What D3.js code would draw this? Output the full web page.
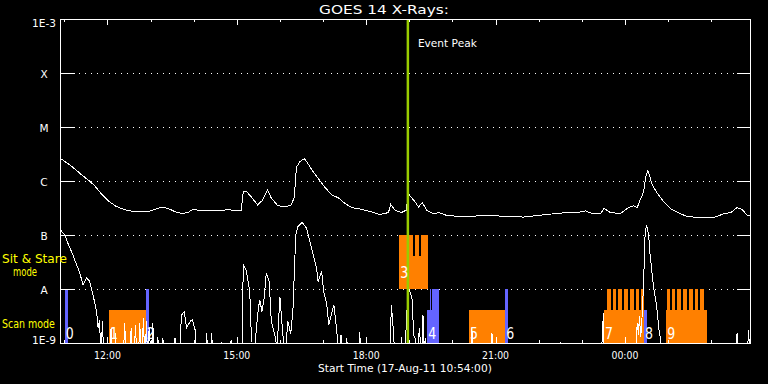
<!DOCTYPE html>
<html>
<head>
<meta charset="utf-8">
<script src="https://cdn.jsdelivr.net/npm/d3@7"></script>
<style>
  body { margin: 0; background: #000; }
  svg { display: block; font-family: "DejaVu Sans", sans-serif; }
</style>
</head>
<body>
<svg id="chart" width="768" height="384"></svg>
<script>

// plot starts 17-Aug-11 10:54:00, all times below are minutes after that
var startTime = new Date(2011, 7, 17, 10, 54, 0);
var spanMinutes = 960;

var levelValues = [1e-9, 1e-8, 1e-7, 1e-6, 1e-5, 1e-4, 1e-3];
var levelLabels = ["1E-9", "A", "B", "C", "M", "X", "1E-3"];

// GOES 1-8 A (long channel)
var longMinutes = [1, 11, 20, 30, 41, 48, 57, 69, 78, 88, 97, 109, 123, 132, 143, 153, 160, 169, 178, 185,
  197, 211, 225, 234, 243, 252, 255, 259, 266, 275, 281, 289, 294, 303, 313, 322, 326, 329, 334, 340,
  345, 352, 362, 368, 378, 387, 396, 406, 419, 433, 445, 457, 460, 466, 475, 482, 483, 486, 494, 499,
  504, 510, 520, 527, 538, 557, 580, 599, 622, 645, 659, 677, 705, 719, 731, 740, 752, 757, 766, 780,
  789, 798, 803, 807, 812, 815, 818, 820, 824, 831, 840, 849, 863, 872, 891, 909, 923, 933, 942, 949,
  956, 960];
var longFlux = [2.6e-6, 2.1e-6, 1.7e-6, 1.3e-6, 1.0e-6, 8.2e-7, 5.9e-7, 4.1e-7, 3.4e-7, 3.0e-7, 2.8e-7, 2.7e-7, 2.7e-7, 3.0e-7, 3.3e-7, 3.0e-7, 2.7e-7, 2.5e-7, 2.6e-7, 3.0e-7,
  2.8e-7, 2.8e-7, 2.8e-7, 3.0e-7, 2.8e-7, 2.8e-7, 6.3e-7, 6.5e-7, 5.1e-7, 3.6e-7, 4.3e-7, 6.8e-7, 4.8e-7, 3.5e-7, 3.3e-7, 3.6e-7, 5.1e-7, 1.8e-6, 2.3e-6, 2.6e-6,
  2.1e-6, 1.5e-6, 1.0e-6, 7.8e-7, 5.5e-7, 4.9e-7, 3.9e-7, 3.2e-7, 3.0e-7, 2.7e-7, 2.4e-7, 2.6e-7, 3.7e-7, 2.9e-7, 2.6e-7, 2.9e-7, 4.0e-7, 5.5e-7, 4.1e-7, 3.3e-7,
  4.0e-7, 2.9e-7, 2.45e-7, 2.6e-7, 2.3e-7, 2.2e-7, 2.25e-7, 2.3e-7, 2.2e-7, 2.15e-7, 2.25e-7, 2.4e-7, 2.6e-7, 2.6e-7, 2.8e-7, 2.5e-7, 2.5e-7, 3.1e-7, 2.6e-7, 2.5e-7,
  3.1e-7, 3.5e-7, 3.2e-7, 4.4e-7, 6.3e-7, 1.2e-6, 1.55e-6, 1.3e-6, 8.4e-7, 5.9e-7, 4.1e-7, 3.1e-7, 2.5e-7, 2.2e-7, 2.1e-7, 2.1e-7, 2.45e-7, 2.6e-7, 3.2e-7, 3.0e-7,
  2.3e-7, 2.3e-7];

// GOES 0.5-4 A (short channel), values under 1E-9 fall off the bottom
var shortMinutes = [1, 7, 11, 18, 23, 27, 32, 37, 41, 46, 51, 53, 55, 57, 59, 61, 70, 71, 73, 76,
  77, 79, 88, 90, 92, 97, 99, 101, 103, 105, 107, 109, 111, 113, 114, 116, 118, 119, 120, 122,
  124, 127, 128, 129, 132, 135, 136, 139, 142, 143, 146, 158, 160, 163, 166, 169, 173, 176, 181, 184,
  188, 190, 202, 204, 206, 209, 211, 213, 223, 225, 226, 237, 238, 240, 253, 255, 259, 264, 266, 269,
  272, 276, 278, 281, 284, 287, 291, 294, 299, 302, 306, 309, 313, 317, 321, 324, 328, 331, 337, 343,
  350, 357, 359, 364, 367, 371, 374, 381, 385, 388, 391, 394, 397, 399, 401, 415, 417, 419, 459, 461,
  464, 466, 473, 475, 477, 480, 482, 485, 488, 490, 492, 494, 497, 500, 503, 505, 507, 508, 511, 571,
  573, 575, 599, 601, 603, 695, 696, 697, 753, 755, 756, 757, 801, 803, 805, 806, 808, 810, 812, 814,
  816, 819, 821, 824, 826, 830, 833, 836, 838, 940, 942, 944, 956, 958, 960];
var shortFlux = [1.24e-7, 9.7e-8, 7.0e-8, 4.3e-8, 2.8e-8, 2.1e-8, 1.2e-8, 1.6e-8, 1.4e-8, 7.7e-9, 3.8e-9, 1.9e-9, 2.7e-9, 5e-10, 2.5e-9, 5e-10, 5e-10, 1.9e-9, 5e-10, 5e-10,
  1.5e-9, 5e-10, 5e-10, 2.35e-9, 5e-10, 5e-10, 1.9e-9, 5e-10, 5e-10, 2.15e-9, 5e-10, 5e-10, 2.35e-9, 5e-10, 5e-10, 2.9e-9, 5e-10, 5e-10, 2.5e-9, 5e-10,
  1.9e-9, 5e-10, 5e-10, 2.35e-9, 5e-10, 5e-10, 1.3e-9, 5e-10, 5e-10, 1.24e-9, 5e-10, 5e-10, 1.24e-9, 5e-10, 5e-10, 3.3e-9, 3.8e-9, 1.9e-9, 2.5e-9, 2.7e-9,
  1.75e-9, 5e-10, 5e-10, 1.5e-9, 5e-10, 5e-10, 1.5e-9, 5e-10, 5e-10, 1.06e-9, 5e-10, 5e-10, 1.14e-9, 5e-10, 5e-10, 2.8e-8, 2.25e-8, 8.9e-9, 1.6e-9, 5e-10,
  1.24e-9, 4.4e-9, 6.3e-9, 3.8e-9, 6.7e-9, 1.95e-8, 1.4e-8, 2.5e-9, 1.4e-9, 8e-10, 7.2e-9, 2.15e-9, 5e-10, 2.5e-9, 1.5e-9, 3.8e-9, 1.0e-7, 1.43e-7, 1.72e-7, 1.33e-7,
  5.7e-8, 2.4e-8, 1.37e-8, 2.1e-8, 8.9e-9, 5.4e-9, 2.15e-9, 5.1e-9, 1.75e-9, 5e-10, 1.4e-9, 5e-10, 5e-10, 1.24e-9, 5e-10, 5e-10, 1.6e-9, 5e-10, 5e-10, 5.1e-9,
  1.6e-9, 5e-10, 5e-10, 1.3e-9, 5e-10, 5e-10, 2.9e-9, 1.0e-8, 8.1e-9, 6.3e-9, 1.4e-9, 1.24e-9, 5e-10, 1.9e-9, 5e-10, 3.3e-9, 5e-10, 1.24e-9, 5e-10, 5e-10,
  1.9e-9, 5e-10, 5e-10, 1.5e-9, 5e-10, 5e-10, 1.06e-9, 5e-10, 5e-10, 1.9e-9, 3.55e-9, 5e-10, 5e-10, 2.3e-9, 1.4e-9, 3.1e-9, 1.3e-9, 3.3e-9, 1.37e-8, 1.0e-7,
  1.53e-7, 1.0e-7, 4.3e-8, 1.8e-8, 1.03e-8, 5.1e-9, 1.9e-9, 1.06e-9, 5e-10, 5e-10, 1.5e-9, 5e-10, 5e-10, 1.75e-9, 5e-10];

// numbered observations
var obsLabels = ["0", "1", "2", "3", "4", "5", "6", "7", "8", "9"];
var obsStart  = [6.5, 68, 119.3, 472, 511, 569, 619.4, 757, 812.6, 843.6];
var obsEnd    = [10.7, 119.3, 124, 512, 527.6, 619.4, 623.2, 812.6, 816.7, 900.2];
var obsBand   = ["scan", "scan", "scan", "sit", "scan", "scan", "scan", "scan", "scan", "scan"];
var obsColor  = ["blue", "orange", "blue", "orange", "blue", "orange", "blue", "orange", "blue", "orange"];
var obsFull   = [true, false, true, false, false, false, true, false, false, false];

// short exposures inside observations, drawn to the full band height
var subStart = [472, 494, 502, 514.1, 517.4, 761, 769, 777, 785, 793, 801, 809, 844, 852, 859, 867, 875, 883, 891];
var subEnd   = [491, 500, 512, 516, 527.6, 766, 774, 782, 790, 798, 806, 812, 848, 856, 864, 872, 880, 888, 896];
var subBand  = ["sit", "sit", "sit", "scan", "scan", "scan", "scan", "scan", "scan", "scan", "scan", "scan",
  "scan", "scan", "scan", "scan", "scan", "scan", "scan"];
var subColor = ["orange", "orange", "orange", "blue", "blue", "orange", "orange", "orange", "orange", "orange", "orange", "orange",
  "orange", "orange", "orange", "orange", "orange", "orange", "orange"];

var eventPeakMinute = 484;


var colors = {orange: "#ff8000", blue: "#6464ff"};
var bands = {scan: [1e-9, 1e-8], sit: [1e-8, 1e-7]};

var width = 690, height = 324;
var svg = d3.select("#chart");
svg.append("rect").attr("width", 768).attr("height", 384).attr("fill", "#000");

var g = svg.append("g").attr("transform", "translate(60,19)");

function tm(m) { return new Date(startTime.getTime() + m * 60000); }

var x = d3.scaleTime()
    .domain([startTime, tm(spanMinutes)])
    .range([0, width]);
var y = d3.scaleLog()
    .domain([1e-9, 1e-3])
    .range([height, 0]);

// text squeezed sideways to a given width (the original uses a narrow vector font)
function label(txt, px, py, size, color, len, anchor) {
  var t = svg.append("text")
      .attr("fill", color)
      .attr("font-size", size)
      .attr("text-anchor", anchor || "start")
      .text(txt);
  var k = len ? len / t.node().getComputedTextLength() : 1;
  t.attr("transform", "translate(" + px + "," + py + ") scale(" + k + ",1)");
  return t;
}

// dotted level lines
g.selectAll(".grid")
    .data(levelValues.slice(1, 6))
  .enter().append("line")
    .attr("x1", 19).attr("x2", width - 13)
    .attr("y1", function(d) { return Math.round(y(d)) + 0.5; })
    .attr("y2", function(d) { return Math.round(y(d)) + 0.5; })
    .attr("stroke", "#fff")
    .attr("stroke-dasharray", "1,5");

// observation blocks
var bandPx = function(b) { return [y(bands[b][0]), y(bands[b][1])]; };

obsLabels.forEach(function(lab, i) {
  var bp = bandPx(obsBand[i]);
  var top = obsFull[i] ? bp[1] : bp[0] - (bp[0] - bp[1]) * 0.62;
  g.append("rect")
      .attr("x", x(tm(obsStart[i])))
      .attr("width", x(tm(obsEnd[i])) - x(tm(obsStart[i])))
      .attr("y", top)
      .attr("height", bp[0] - top)
      .attr("fill", colors[obsColor[i]])
      .attr("shape-rendering", "crispEdges");
});

subStart.forEach(function(s, i) {
  var bp = bandPx(subBand[i]);
  g.append("rect")
      .attr("x", x(tm(s)))
      .attr("width", x(tm(subEnd[i])) - x(tm(s)))
      .attr("y", bp[1])
      .attr("height", bp[0] - bp[1])
      .attr("fill", colors[subColor[i]])
      .attr("shape-rendering", "crispEdges");
});

// block numbers
obsLabels.forEach(function(lab, i) {
  var bp = bandPx(obsBand[i]);
  var off = obsBand[i] == "sit" ? 11 : 4.5;
  label(lab, 60 + x(tm(obsStart[i])) + 1, 19 + bp[0] - off, 15, "#fff", 8);
});

// curves
svg.append("clipPath").attr("id", "plotclip")
  .append("rect").attr("width", width).attr("height", height);

var line = d3.line()
    .x(function(d) { return x(tm(d[0])); })
    .y(function(d) { return y(d[1]); });

var longData = longMinutes.map(function(m, i) { return [m, longFlux[i]]; });
var shortData = shortMinutes.map(function(m, i) { return [m, shortFlux[i]]; });

[longData, shortData].forEach(function(data) {
  g.append("path")
      .datum(data)
      .attr("clip-path", "url(#plotclip)")
      .attr("fill", "none")
      .attr("stroke", "#fff")
      .attr("stroke-width", 1)
      .attr("shape-rendering", "crispEdges")
      .attr("d", line);
});

// event peak marker
var px = x(tm(eventPeakMinute));
g.append("line")
    .attr("x1", px).attr("x2", px)
    .attr("y1", 0).attr("y2", height)
    .attr("stroke", "#9c0")
    .attr("stroke-width", 2.5);
label("Event Peak", 60 + px + 10, 47, 11, "#fff", 59);

// frame
g.append("rect")
    .attr("x", 0.5).attr("y", 0.5)
    .attr("width", width).attr("height", height)
    .attr("fill", "none")
    .attr("stroke", "#fff")
    .attr("shape-rendering", "crispEdges");

// level ticks on both sides
levelValues.slice(1, 6).forEach(function(v) {
  var yy = Math.round(y(v)) + 0.5;
  g.append("line").attr("x1", 0).attr("x2", 15).attr("y1", yy).attr("y2", yy).attr("stroke", "#fff");
  g.append("line").attr("x1", width - 13).attr("x2", width).attr("y1", yy).attr("y2", yy).attr("stroke", "#fff");
});

// time ticks, top and bottom
var hours = d3.timeHour.range(startTime, tm(spanMinutes));
hours.forEach(function(h) {
  var xx = Math.round(x(h)) + 0.5;
  var len = h.getHours() % 3 == 0 ? 6 : 3;
  g.append("line").attr("x1", xx).attr("x2", xx).attr("y1", 0).attr("y2", len).attr("stroke", "#fff");
  g.append("line").attr("x1", xx).attr("x2", xx).attr("y1", height).attr("y2", height - len).attr("stroke", "#fff");
});

var fmt = d3.timeFormat("%H:%M");
hours.filter(function(h) { return h.getHours() % 3 == 0; }).forEach(function(h) {
  label(fmt(h), 60 + x(h), 358.5, 10, "#fff", 27, "middle");
});

// level labels
levelLabels.forEach(function(lab, i) {
  var yy = 19 + y(levelValues[i]) + 4.5;
  if (i == 0) yy = 343.5;
  if (i == levelLabels.length - 1) yy = 27;
  label(lab, 44, yy, 10.5, "#fff", lab.length > 1 ? 24 : null, "middle");
});

// texts
label("GOES 14 X-Rays:", 319, 14, 12.5, "#fff", 130);
label("Start Time (17-Aug-11 10:54:00)", 318, 371.5, 10, "#fff", 174);
label("Sit & Stare", 2, 262.5, 11.5, "#ff0", 65);
label("mode", 13, 276, 11.5, "#ff0", 24);
label("Scan mode", 2, 328, 11.5, "#ff0", 53);

</script>
</body>
</html>
